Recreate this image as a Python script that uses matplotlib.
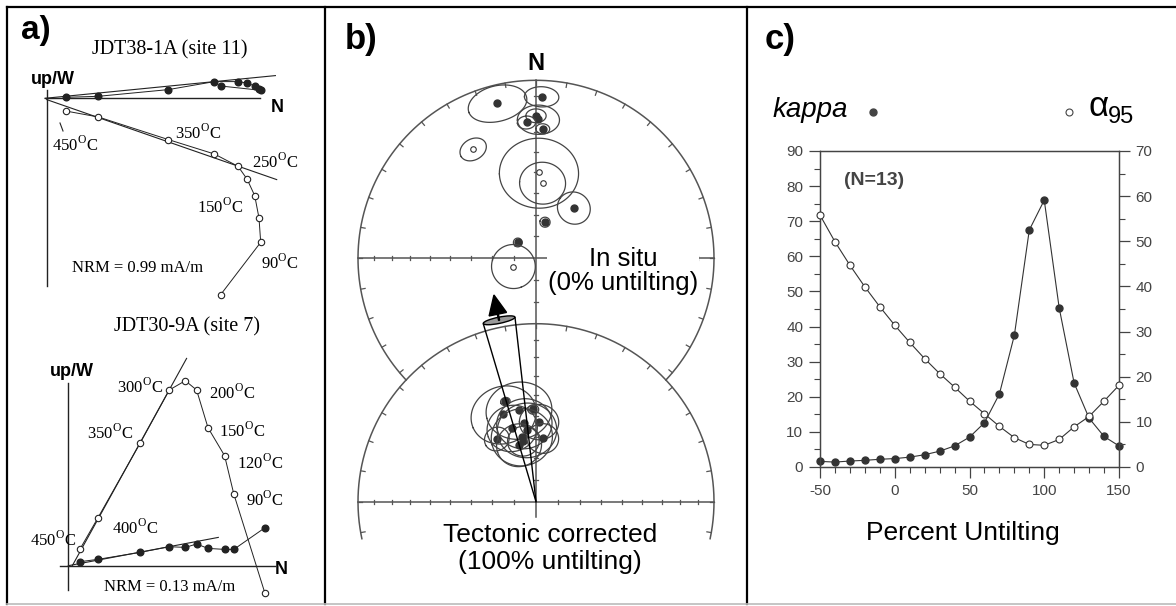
import numpy as np
import matplotlib
matplotlib.use('Agg')
import matplotlib.pyplot as plt
from matplotlib.patches import Ellipse, FancyArrow
from matplotlib.lines import Line2D
from matplotlib.ticker import MultipleLocator

plt.rcParams['font.family'] = ['Liberation Sans', 'DejaVu Sans']
plt.rcParams['mathtext.fontset'] = 'custom'
plt.rcParams['mathtext.rm'] = 'Liberation Serif'
plt.rcParams['axes.unicode_minus'] = False

# ---------------- a) orthogonal plots (arbitrary units, origin at 0,0)
# JDT38-1A (site 11), NRM -> 450C
s11_north = [174, 214, 212.3, 208, 200.3, 191.3, 167.7, 121.7, 51.7, 19]
s11_west = [12.3, 8.0, 9.0, 12.3, 15.3, 16.7, 16.7, 8.7, 2.0, 1.0]
s11_up = [-196.3, -144, -119.7, -97.3, -80.7, -68, -55.7, -41.3, -18.7, -12.7]
s11_fit_h = ([-1.7, 228.7], [0, 22.7])
s11_fit_v = ([0, 230], [-1.3, -81.3])

# JDT30-9A (site 7), NRM -> 450C
s7_north = [196.7, 165.5, 156.3, 139.7, 128.3, 117, 101, 71.7, 29.3, 11.5]
s7_west = [38, 16.3, 16.3, 17.3, 21.7, 18.3, 19, 13.3, 6.3, 4]
s7_up = [-27.7, 71.7, 110, 138, 175.7, 185, 175.7, 122.3, 47.3, 16.3]
s7_fit_h = ([0, 150], [0, 28.3])
s7_fit_v = ([4, 118.3], [0, 207.3])

# ---------------- b) site mean directions
insitu_dec = [2, 346, 360, 1, 356, 3, 37, 14, 311, 330, 2, 5, 250]
insitu_inc = [10, 11, 21, 23, 24.5, 28, 61, 73, 79, -30, -50, -55, -79]
insitu_a95 = [6, 10.5, 3.8, 8, 3.5, 2.7, 7.4, 2.3, 2, 5.5, 17, 10, 10]

tilt_dec = [343, 349.4, 339.5, 358.3, 351.5, 2.2, 328, 347.6, 348.2, 343.3, 6.1, 352.8, 342]
tilt_inc = [40.8, 46.5, 46.5, 47, 53.3, 53, 55.8, 59.4, 61.5, 62.8, 60.7, 56.6, 54.2]
tilt_a95 = [2, 14, 14, 2.3, 12, 8.5, 5.5, 13.5, 7, 10, 7, 13, 11]

ref_dec = 348.5
ref_ddec = 5.0

# ---------------- c) fold test
untilt = [-50, -40, -30, -20, -10, 0, 10, 20, 30, 40, 50, 60, 70, 80, 90, 100,
          110, 120, 130, 140, 150]
kappa = [1.6, 1.4, 1.7, 1.9, 2.2, 2.4, 2.8, 3.5, 4.5, 6.0, 8.5, 12.6, 20.8,
         37.5, 67.5, 76.0, 45.3, 23.9, 13.9, 8.7, 6.0]
alpha95 = [55.8, 49.9, 44.7, 39.9, 35.5, 31.4, 27.6, 24.0, 20.7, 17.7, 14.6,
           11.8, 9.0, 6.5, 5.0, 4.8, 6.1, 8.9, 11.2, 14.6, 18.1]

W, H = 1176, 606
fig = plt.figure(figsize=(W / 100, H / 100), dpi=100)


def px_axes(x0, y0, x1, y1):
    return fig.add_axes([x0 / W, 1 - y1 / H, (x1 - x0) / W, (y1 - y0) / H])


# frame lines
for x in [7, 325, 747]:
    fig.add_artist(Line2D([x / W, x / W], [1 - 7 / H, 1 - 604 / H], color='black', lw=1.6))
fig.add_artist(Line2D([7 / W, 1], [1 - 7 / H, 1 - 7 / H], color='black', lw=1.6))
fig.add_artist(Line2D([7 / W, 1], [1 - 604 / H, 1 - 604 / H], color='#bbbbbb', lw=1.2))

serif = 'Liberation Serif'
dark = '#222222'


def temp(t):
    return t + r'$^{\mathrm{O}}$C'


def zijderveld(ax, north, west, up, fit_h, fit_v, haxis, vaxis):
    ax.plot(haxis, [0, 0], color=dark, lw=1.0)
    ax.plot([0, 0], vaxis, color=dark, lw=1.0)
    ax.plot(*fit_h, color=dark, lw=0.8)
    ax.plot(*fit_v, color=dark, lw=0.8)
    ax.plot(north, west, '-o', color=dark, lw=0.7, ms=4.8, mfc=dark, mec=dark)
    ax.plot(north, up, '-o', color=dark, lw=0.7, ms=4.6, mfc='white', mec=dark, mew=0.8)


# top diagram: origin at px (46.7, 98.3)
ax1 = px_axes(7, 7, 325, 300)
ax1.set_xlim(7 - 46.7, 325 - 46.7)
ax1.set_ylim(98.3 - 300, 98.3 - 7)
ax1.axis('off')
zijderveld(ax1, s11_north, s11_west, s11_up, s11_fit_h, s11_fit_v, [-1.7, 213.3], [8.7, -188])
ax1.text(-25.7, 68.3, 'a)', fontsize=24, fontweight='bold', ha='left', va='center')
ax1.text(123.3, 48.3, 'JDT38-1A (site 11)', family=serif, fontsize=14.5, ha='center', va='center')
ax1.text(6.3, 18.3, 'up/W', fontsize=13, fontweight='bold', ha='center', va='center')
ax1.text(230.3, -8.7, 'N', fontsize=13, fontweight='bold', ha='center', va='center')
ax1.plot([13.3, 16.3], [-24.7, -32.7], color=dark, lw=0.8)
for lbl, x, y in [('450', 28.3, -46.7), ('350', 151.3, -34.7), ('250', 228.3, -63.7),
                  ('150', 173.3, -108.7), ('90', 233.3, -164.7)]:
    ax1.text(x, y, temp(lbl), family=serif, fontsize=12, ha='center', va='center')
ax1.text(91.3, -169.7, 'NRM = 0.99 mA/m', family=serif, fontsize=12, ha='center', va='center')

# bottom diagram: origin at px (68.3, 565.7)
ax2 = px_axes(7, 300, 325, 604)
ax2.set_xlim(7 - 68.3, 325 - 68.3)
ax2.set_ylim(565.7 - 604, 565.7 - 300)
ax2.axis('off')
zijderveld(ax2, s7_north, s7_west, s7_up, s7_fit_h, s7_fit_v, [-8.3, 206.7], [182.3, -24.3])
ax2.text(118.4, 239, 'JDT30-9A (site 7)', family=serif, fontsize=14.5, ha='center', va='center')
ax2.text(3.4, 194, 'up/W', fontsize=13, fontweight='bold', ha='center', va='center')
ax2.text(213.4, -4.3, 'N', fontsize=13, fontweight='bold', ha='center', va='center')
for lbl, x, y in [('300', 71.7, 178.7), ('200', 163.4, 172.7), ('350', 41.7, 132.7),
                  ('150', 173.4, 134.7), ('120', 191.7, 102.7), ('90', 196.7, 65.7),
                  ('400', 66.7, 37.7), ('450', -15.3, 25.7)]:
    ax2.text(x, y, temp(lbl), family=serif, fontsize=12, ha='center', va='center')
ax2.text(101.7, -21.3, 'NRM = 0.13 mA/m', family=serif, fontsize=12, ha='center', va='center')

# ---------------- b) equal-area nets
axb = px_axes(325, 7, 747, 604)
axb.set_xlim((325 - 536) / 178, (747 - 536) / 178)
axb.set_ylim((258.3 - 604) / 178, (258.3 - 7) / 178)
axb.axis('off')
netc = '#555555'
d = 243.4 / 178  # offset between net centres


def ea_r(inc):
    return np.sqrt(2) * np.sin(np.radians(90 - np.abs(inc)) / 2)


def project(dec, inc, cy):
    r = ea_r(inc)
    return r * np.sin(np.radians(dec)), cy + r * np.cos(np.radians(dec))


def small_circle(dec, inc, a, n=120):
    dr, ir = np.radians(dec), np.radians(inc)
    v = np.array([np.cos(ir) * np.cos(dr), np.cos(ir) * np.sin(dr), np.sin(ir)])
    u1 = np.cross(v, [0, 0, 1])
    u1 /= np.linalg.norm(u1)
    u2 = np.cross(v, u1)
    t = np.linspace(0, 2 * np.pi, n)
    ar = np.radians(a)
    p = np.cos(ar) * v[:, None] + np.sin(ar) * (np.outer(u1, np.cos(t)) + np.outer(u2, np.sin(t)))
    pd = np.degrees(np.arctan2(p[1], p[0]))
    pi = np.degrees(np.arcsin(np.clip(p[2], -1, 1)))
    return pd, pi


def net(cy, a0, a1, arm_limits):
    th = np.radians(np.linspace(a0, a1, 300))
    axb.plot(np.cos(th), cy + np.sin(th), color=netc, lw=1.1)
    for az in range(0, 360, 10):
        ang = 90 - az
        a = (ang - a0) % 360
        if a <= (a1 - a0):
            c, s = np.cos(np.radians(ang)), np.sin(np.radians(ang))
            axb.plot([c, 0.975 * c], [cy + s, cy + 0.975 * s], color=netc, lw=0.9)
    rs = ea_r(np.arange(10, 90, 10))
    for (dx, dy, rmax) in arm_limits:
        for r in rs:
            if r <= rmax:
                x, y = dx * r, cy + dy * r
                axb.plot([x - dy * 0.012, x + dy * 0.012], [y - dx * 0.012, y + dx * 0.012],
                         color=netc, lw=0.9)


# upper net: in situ, arc hidden where inside lower net
ai = np.degrees(np.arcsin(d / 2))
axb.plot([-1, 1], [0, 0], color=netc, lw=1.1)
axb.plot([-1, 1], [-d, -d], color=netc, lw=1.1)
axb.plot([0, 0], [1, -d - 0.085], color=netc, lw=1.1)
net(0, -ai, 180 + ai, [(1, 0, 1), (-1, 0, 1), (0, 1, 1), (0, -1, 0.36)])
net(-d, -12, 192, [(1, 0, 1), (-1, 0, 1), (0, 1, 1)])


def plot_sites(decs, incs, a95s, cy):
    for dd, ii, aa in zip(decs, incs, a95s):
        cd, ci = small_circle(dd, ii, aa)
        x, y = project(cd, ci, cy)
        axb.plot(x, y, color='#444444', lw=0.9)
        px, py = project(dd, ii, cy)
        if ii >= 0:
            axb.plot(px, py, 'o', ms=5, color='#333333')
        else:
            axb.plot(px, py, 'o', ms=4, mfc='white', mec='#333333', mew=0.8)


plot_sites(insitu_dec, insitu_inc, insitu_a95, 0)
plot_sites(tilt_dec, tilt_inc, tilt_a95, -d)

# expected declination with cone
rc, rt = 1.04, 1.185
for dd in [ref_dec - ref_ddec, ref_dec + ref_ddec]:
    axb.plot([0, rc * np.sin(np.radians(dd))], [-d, -d + rc * np.cos(np.radians(dd))],
             color='black', lw=1.0)
ex, ey = rc * np.sin(np.radians(ref_dec)), -d + rc * np.cos(np.radians(ref_dec))
axb.add_patch(Ellipse((ex, ey), 2 * rc * np.sin(np.radians(ref_ddec)), 0.035,
                      angle=360 - ref_dec, facecolor='#999999', edgecolor='black', lw=1.0))
tx, ty = rt * np.sin(np.radians(ref_dec)), -d + rt * np.cos(np.radians(ref_dec))
axb.add_patch(FancyArrow(ex, ey, tx - ex, ty - ey, width=0.006, head_width=0.1,
                         head_length=0.11, length_includes_head=True, color='black'))

axb.text(0, 1.097, 'N', fontsize=17, fontweight='bold', ha='center', va='center')
axb.text((345 - 536) / 178, (258.3 - 40) / 178, 'b)', fontsize=25, fontweight='bold',
         ha='left', va='center')
axb.text(0.489, -0.07, 'In situ\n(0% untilting)', fontsize=18.5, ha='center', va='center',
         linespacing=1.0, bbox=dict(facecolor='white', edgecolor='none', pad=1))
axb.text(0.079, -1.629, 'Tectonic corrected\n(100% untilting)', fontsize=19,
         ha='center', va='center', linespacing=1.15)

# ---------------- c) incremental fold test
axc = px_axes(820, 151, 1119, 467)
axr = axc.twinx()
line_c = '#333333'
tick_c = '#444444'
axc.plot(untilt, kappa, '-o', color=line_c, lw=0.8, ms=5, clip_on=False, zorder=3)
axr.plot(untilt, alpha95, '-o', color=line_c, lw=0.8, ms=5, mfc='white', mec=line_c,
         mew=0.8, clip_on=False, zorder=3)
axc.set_xlim(-50, 150)
axc.set_ylim(0, 90)
axr.set_ylim(0, 70)
axc.xaxis.set_major_locator(MultipleLocator(50))
axc.xaxis.set_minor_locator(MultipleLocator(10))
axc.yaxis.set_major_locator(MultipleLocator(10))
axc.yaxis.set_minor_locator(MultipleLocator(5))
axr.yaxis.set_major_locator(MultipleLocator(10))
axr.yaxis.set_minor_locator(MultipleLocator(5))
for a in (axc, axr):
    for sp in a.spines.values():
        sp.set_color(tick_c)
        sp.set_linewidth(0.9)
    a.tick_params(which='major', direction='out', length=8, width=0.9, color=tick_c,
                  labelcolor=tick_c, labelsize=11, pad=4)
    a.tick_params(which='minor', direction='out', length=4, width=0.8, color=tick_c)
axc.text(0.18, 0.908, '(N=13)', transform=axc.transAxes, fontsize=14, fontweight='bold',
         color='#444444', ha='center', va='center')
axc.text(0.479, -0.21, 'Percent Untilting', transform=axc.transAxes, fontsize=19,
         ha='center', va='center')

fig.text(765 / W, 1 - 40 / H, 'c)', fontsize=25, fontweight='bold', ha='left', va='center')
fig.text(773 / W, 1 - 110 / H, 'kappa', fontsize=20, style='italic', ha='left', va='center')
fig.add_artist(Line2D([873.3 / W], [1 - 111.7 / H], marker='o', ms=5, color='#444444'))
fig.add_artist(Line2D([1069.3 / W], [1 - 111.7 / H], marker='o', ms=5, mfc='white',
                      mec='#444444', mew=0.8))
fig.text(1089 / W, 1 - 107 / H, 'α', fontsize=25, ha='left', va='center')
fig.text(1108 / W, 1 - 117 / H, '95', fontsize=17, ha='left', va='center')

fig.savefig('out.png', dpi=100)
